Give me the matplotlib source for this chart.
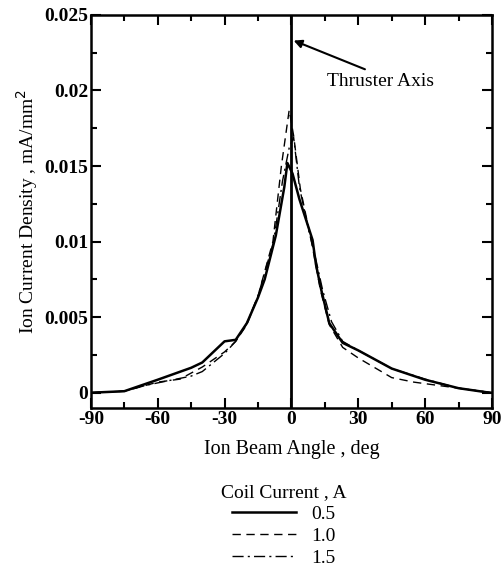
import matplotlib
matplotlib.use("Agg")
import matplotlib.pyplot as plt
from matplotlib.lines import Line2D
from matplotlib.ticker import MultipleLocator

plt.rcParams['font.family'] = ['Liberation Serif', 'DejaVu Serif']

# Coil current 0.5 A (solid)
ang_05 = [-90, -75, -60, -45, -40, -30, -25, -20, -15, -12, -7, -3.2, -1.8, 0.5, 3.6, 9.5, 11, 13.4, 17, 23, 30, 45, 60, 75, 89, 90]
cur_05 = [0.0000, 0.0001, 0.00086, 0.00165, 0.0020, 0.0034, 0.0035, 0.0046, 0.0063, 0.0075, 0.0104, 0.0136, 0.0152, 0.0145, 0.0128, 0.0101, 0.0085, 0.0068, 0.0046, 0.0033, 0.0028, 0.0016, 0.00086, 0.0003, 0.0000, 0.0000]

# Coil current 1.0 A (dashed)
ang_10 = [-90, -75, -70, -60, -50, -40, -30, -25, -20, -15, -8.3, -4.5, -1.0, 1.0, 4.0, 9.0, 13, 17, 23, 30, 45, 55, 60, 75, 90]
cur_10 = [0.0000, 0.0001, 0.0003, 0.0007, 0.0009, 0.0017, 0.0027, 0.0034, 0.0045, 0.0064, 0.0100, 0.0150, 0.0187, 0.0170, 0.0135, 0.0100, 0.0068, 0.0045, 0.0030, 0.0023, 0.0010, 0.0007, 0.0006, 0.0003, 0.0000]

# Coil current 1.5 A (dash-dot)
ang_15 = [-90, -75, -65, -55, -45, -40, -30, -25, -20, -15, -8, -4, -1, 1, 3.6, 8, 11, 14, 18, 23, 30, 45, 60, 75, 90]
cur_15 = [0.0000, 0.0001, 0.0005, 0.0008, 0.0011, 0.0014, 0.0026, 0.0034, 0.0046, 0.0064, 0.0100, 0.0140, 0.0162, 0.0169, 0.0136, 0.0106, 0.0088, 0.0068, 0.0047, 0.0034, 0.0028, 0.0016, 0.0009, 0.0003, 0.0000]

labels = ['0.5', '1.0', '1.5']

fig = plt.figure(figsize=(5.02, 5.72), dpi=100)
ax = fig.add_axes([0.181, 0.287, 0.799, 0.687])

ax.plot(ang_05, cur_05, color='black', lw=1.8, ls='-')
ax.plot(ang_10, cur_10, color='black', lw=1.0, ls=(0, (6, 4)))
ax.plot(ang_15, cur_15, color='black', lw=1.0, ls=(0, (8, 3, 1.5, 3)))
ax.axvline(0, color='black', lw=2)

ax.set_xlim(-90, 90)
ax.set_ylim(-0.001, 0.025)
ax.xaxis.set_minor_locator(MultipleLocator(15))
ax.yaxis.set_minor_locator(MultipleLocator(0.0025))
ax.set_xticks([-90, -60, -30, 0, 30, 60, 90])
ax.set_xticklabels(['-90', '-60', '-30', '0', '30', '60', '90'])
ax.set_yticks([0, 0.005, 0.01, 0.015, 0.02, 0.025])
ax.set_yticklabels(['0', '0.005', '0.01', '0.015', '0.02', '0.025'])
ax.tick_params(which='both', direction='in', top=True, right=True, width=1.5)
ax.tick_params(which='major', length=7, labelsize=14, pad=2)
ax.tick_params(which='minor', length=4)
for s in ax.spines.values():
    s.set_linewidth(1.8)
for t in ax.get_xticklabels() + ax.get_yticklabels():
    t.set_fontweight('bold')

ax.set_xlabel('Ion Beam Angle , deg', fontsize=14.5, labelpad=9)
ax.set_ylabel('Ion Current Density , mA/mm$^2$', fontsize=14, labelpad=3)

ax.text(16, 0.0206, 'Thruster Axis', fontsize=14, ha='left', va='center')
ax.annotate('', xy=(1, 0.0233), xytext=(33, 0.0214),
            arrowprops=dict(arrowstyle='-|>', color='black', lw=1.5,
                            shrinkA=0, shrinkB=0, mutation_scale=12))

handles = [
    Line2D([], [], color='black', lw=1.8, ls='-'),
    Line2D([], [], color='black', lw=1.0, ls=(0, (6, 4))),
    Line2D([], [], color='black', lw=1.0, ls=(0, (8, 3, 1.5, 3))),
]
leg = fig.legend(handles, labels, title='Coil Current , A', loc='upper center',
                 bbox_to_anchor=(0.565, 0.171), frameon=False, fontsize=14,
                 title_fontsize=14, handlelength=3.3, labelspacing=0.22,
                 borderpad=0, handletextpad=0.8)

fig.savefig('out.png', dpi=100)
